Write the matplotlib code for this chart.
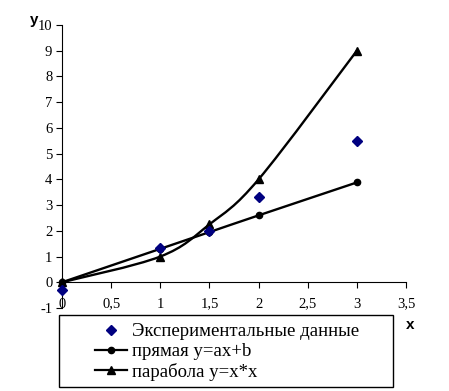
import matplotlib
matplotlib.use('Agg')
import matplotlib.pyplot as plt
import numpy as np
from matplotlib.path import Path
from matplotlib.patches import PathPatch, Rectangle
from matplotlib.lines import Line2D

# data
x_exp = [0, 1, 1.5, 2, 3]
y_exp = [-0.3, 1.32, 2.0, 3.32, 5.48]
x_fit = [0, 1, 1.5, 2, 3]
y_line = [0, 1.3, 1.95, 2.6, 3.88]
y_par = [0, 1, 2.25, 4, 9]
x_ticks = [0, 0.5, 1, 1.5, 2, 2.5, 3, 3.5]
x_ticklabels = ['0', '0,5', '1', '1,5', '2', '2,5', '3', '3,5']
y_ticks = list(range(-1, 11))
labels = ['Экспериментальные данные', 'прямая y=ax+b', 'парабола y=x*x']

serif = 'Liberation Serif'
sans = 'Liberation Sans'


def smooth_path(xs, ys):
    # excel-like smoothed line: catmull-rom as cubic bezier
    p = np.column_stack([xs, ys]).astype(float)
    pts = np.vstack([p[0], p, p[-1]])
    verts = [p[0]]
    codes = [Path.MOVETO]
    for i in range(1, len(pts) - 2):
        c1 = pts[i] + (pts[i + 1] - pts[i - 1]) / 6
        c2 = pts[i + 1] - (pts[i + 2] - pts[i]) / 6
        verts += [c1, c2, pts[i + 1]]
        codes += [Path.CURVE4] * 3
    return Path(verts, codes)


fig = plt.figure(figsize=(4.49, 3.91), dpi=100)
ax = fig.add_axes([62 / 449, 1 - 308 / 391, 344 / 449, 283 / 391])

ax.plot(x_exp, y_exp, 'D', color='#000080', ms=5.5, zorder=5, clip_on=False)
for ys, mk, ms in [(y_line, 'o', 4.5), (y_par, '^', 5.5)]:
    ax.add_patch(PathPatch(smooth_path(x_fit, ys), fill=False, ec='black', lw=1.7, zorder=3))
    ax.plot(x_fit, ys, mk, color='black', ms=ms, zorder=4, clip_on=False)

ax.set_xlim(0, 3.5)
ax.set_ylim(-1, 10)
ax.spines['top'].set_visible(False)
ax.spines['right'].set_visible(False)
ax.spines['bottom'].set_position(('data', 0))
ax.spines['left'].set_position(('data', 0))
ax.set_xticks(x_ticks)
ax.set_xticklabels(x_ticklabels, fontfamily=serif, fontsize=10.5)
ax.set_yticks(y_ticks)
ax.set_yticklabels([str(v) for v in y_ticks], fontfamily=serif, fontsize=10.5)
ax.tick_params(axis='x', direction='out', length=4, pad=7)
ax.tick_params(axis='y', direction='out', length=4, pad=3)

fig.text(30 / 449, 1 - 20 / 391, 'y', fontfamily=sans, fontweight='bold', fontsize=11, va='center')
fig.text(406 / 449, 1 - 325 / 391, 'x', fontfamily=sans, fontweight='bold', fontsize=11, va='center')

# legend box
fig.patches.append(Rectangle((59 / 449, 1 - 387 / 391), 334 / 449, 72 / 391,
                             transform=fig.transFigure, fill=False, ec='black', lw=1.0))
handles = [
    Line2D([], [], ls='none', marker='D', color='#000080', ms=5.5),
    Line2D([], [], ls='-', marker='o', color='black', ms=4.5, lw=1.6),
    Line2D([], [], ls='-', marker='^', color='black', ms=5.5, lw=1.6),
]
fig.legend(handles, labels, loc='center left', bbox_to_anchor=(95 / 449, 1 - 352 / 391),
           frameon=False, prop={'family': serif, 'size': 13.5}, handlelength=1.7,
           handletextpad=0.27, labelspacing=0.15, borderpad=0, borderaxespad=0)

fig.savefig('out.png', dpi=100, facecolor='white')
